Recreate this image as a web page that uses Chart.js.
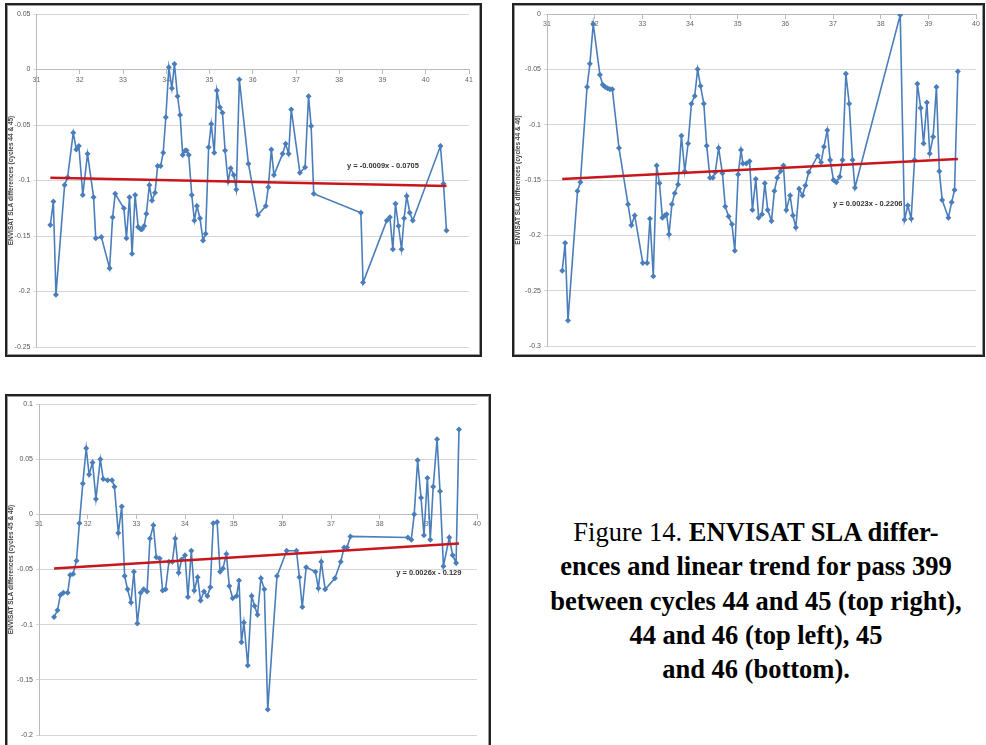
<!DOCTYPE html>
<html>
<head>
<meta charset="utf-8">
<script src="https://cdn.jsdelivr.net/npm/chart.js@4/dist/chart.umd.min.js"></script>
<style>
  body { margin: 0; background: #fff; width: 986px; height: 745px; position: relative; overflow: hidden; }
  .box { position: absolute; border: 2px solid #222; box-shadow: inset 0 0 0 1px #999; background: #fff; }
  canvas { position: absolute; }
  #caption {
    position: absolute; left: 526px; top: 515px; width: 460px;
    font-family: "Liberation Serif", "Times New Roman", serif; font-size: 26.5px;
    line-height: 34.3px; text-align: center; color: #000;
  }
</style>
</head>
<body>
<div class="box" style="left:5px;top:3px;width:473px;height:350px"></div>
<div class="box" style="left:512px;top:3px;width:469px;height:350px"></div>
<div class="box" style="left:5px;top:394px;width:482px;height:360px"></div>
<canvas id="c1" width="472" height="350" style="left:7px;top:5px"></canvas>
<canvas id="c2" width="468" height="350" style="left:514px;top:5px"></canvas>
<canvas id="c3" width="481" height="349" style="left:7px;top:396px"></canvas>
<div id="caption">Figure 14. <b>ENVISAT SLA differ-<br>ences and linear trend for pass 399<br>between cycles 44 and 45 (top right),<br>44 and 46 (top left), 45<br>and 46 (bottom).</b></div>

<script>
// cycles 44 & 45 (top left)
const x1 = [31.32, 31.39, 31.45, 31.65, 31.72, 31.85, 31.92, 31.98, 32.07, 32.18,
  32.32, 32.37, 32.50, 32.69, 32.76, 32.82, 33.02, 33.08, 33.15, 33.21,
  33.28, 33.35, 33.41, 33.44, 33.49, 33.54, 33.61, 33.67, 33.74, 33.80,
  33.87, 33.93, 33.99, 34.06, 34.13, 34.19, 34.26, 34.32, 34.38, 34.44,
  34.47, 34.52, 34.59, 34.65, 34.71, 34.78, 34.85, 34.91, 34.98, 35.04,
  35.11, 35.17, 35.24, 35.30, 35.36, 35.43, 35.49, 35.56, 35.62, 35.69,
  35.90, 36.12, 36.30, 36.36, 36.43, 36.49, 36.69, 36.76, 36.83, 36.89,
  37.09, 37.21, 37.29, 37.35, 37.41, 38.50, 38.55, 39.10, 39.17, 39.24,
  39.30, 39.37, 39.44, 39.50, 39.56, 39.63, 39.70, 40.34, 40.41, 40.48];
const y1 = [-0.140, -0.119, -0.203, -0.104, -0.097, -0.057, -0.072, -0.069, -0.113, -0.076,
  -0.115, -0.152, -0.151, -0.179, -0.133, -0.112, -0.125, -0.152, -0.115, -0.166,
  -0.113, -0.142, -0.144, -0.144, -0.141, -0.130, -0.104, -0.118, -0.111, -0.087,
  -0.087, -0.075, -0.043, 0.002, -0.017, 0.005, -0.024, -0.041, -0.077, -0.073,
  -0.073, -0.077, -0.113, -0.136, -0.123, -0.134, -0.154, -0.148, -0.070, -0.049,
  -0.075, -0.019, -0.034, -0.039, -0.073, -0.101, -0.089, -0.095, -0.108, -0.009,
  -0.085, -0.131, -0.123, -0.106, -0.072, -0.095, -0.076, -0.067, -0.076, -0.036,
  -0.093, -0.088, -0.024, -0.051, -0.112, -0.129, -0.192, -0.136, -0.133, -0.162,
  -0.121, -0.141, -0.162, -0.134, -0.114, -0.129, -0.136, -0.069, -0.103, -0.145];
const trend1 = [[31.32, -0.0975], [40.48, -0.105]];

// cycles 44 & 46 (top right)
const x2 = [31.32, 31.38, 31.44, 31.64, 31.70, 31.84, 31.90, 31.97, 32.11, 32.17,
  32.22, 32.27, 32.32, 32.37, 32.51, 32.70, 32.77, 32.84, 33.01, 33.10,
  33.16, 33.23, 33.30, 33.36, 33.42, 33.47, 33.51, 33.56, 33.62, 33.68,
  33.75, 33.82, 33.89, 33.96, 34.03, 34.10, 34.16, 34.22, 34.29, 34.35,
  34.42, 34.48, 34.53, 34.60, 34.68, 34.74, 34.81, 34.88, 34.94, 35.01,
  35.07, 35.11, 35.18, 35.25, 35.31, 35.38, 35.44, 35.51, 35.57, 35.63,
  35.71, 35.77, 35.83, 35.90, 35.96, 36.02, 36.10, 36.16, 36.22, 36.29,
  36.36, 36.42, 36.49, 36.68, 36.75, 36.81, 36.88, 36.94, 37.01, 37.07,
  37.14, 37.20, 37.27, 37.34, 37.41, 37.46, 38.41, 38.50, 38.57, 38.64,
  38.71, 38.77, 38.84, 38.90, 38.97, 39.03, 39.10, 39.17, 39.23, 39.29,
  39.42, 39.49, 39.55, 39.62];
const y2 = [-0.232, -0.207, -0.277, -0.160, -0.152, -0.066, -0.045, -0.009, -0.055, -0.064,
  -0.066, -0.067, -0.068, -0.068, -0.121, -0.172, -0.191, -0.182, -0.225, -0.225,
  -0.185, -0.237, -0.137, -0.153, -0.184, -0.182, -0.181, -0.199, -0.172, -0.162,
  -0.154, -0.110, -0.142, -0.117, -0.081, -0.074, -0.050, -0.065, -0.081, -0.119,
  -0.148, -0.148, -0.143, -0.121, -0.144, -0.174, -0.183, -0.190, -0.214, -0.145,
  -0.123, -0.135, -0.135, -0.133, -0.177, -0.149, -0.184, -0.181, -0.153, -0.177,
  -0.187, -0.160, -0.148, -0.142, -0.137, -0.177, -0.164, -0.182, -0.193, -0.158,
  -0.164, -0.155, -0.143, -0.128, -0.134, -0.120, -0.105, -0.132, -0.150, -0.152,
  -0.147, -0.132, -0.054, -0.081, -0.132, -0.157, -0.001, -0.186, -0.173, -0.185,
  -0.132, -0.063, -0.085, -0.117, -0.080, -0.126, -0.111, -0.066, -0.142, -0.168,
  -0.184, -0.170, -0.159, -0.052];
const trend2 = [[31.32, -0.149], [39.62, -0.131]];

// cycles 45 & 46 (bottom)
const x3 = [31.31, 31.38, 31.44, 31.50, 31.59, 31.64, 31.70, 31.77, 31.83, 31.90,
  31.97, 32.03, 32.10, 32.17, 32.26, 32.32, 32.41, 32.50, 32.55, 32.63,
  32.70, 32.76, 32.82, 32.89, 32.95, 33.02, 33.09, 33.15, 33.22, 33.28,
  33.35, 33.41, 33.48, 33.54, 33.60, 33.67, 33.74, 33.80, 33.87, 33.93,
  34.00, 34.06, 34.13, 34.19, 34.26, 34.32, 34.39, 34.46, 34.52, 34.58,
  34.66, 34.72, 34.78, 34.85, 34.91, 34.98, 35.06, 35.11, 35.16, 35.21,
  35.29, 35.37, 35.43, 35.49, 35.56, 35.63, 35.70, 35.89, 36.09, 36.29,
  36.35, 36.41, 36.49, 36.68, 36.74, 36.80, 36.88, 37.08, 37.20, 37.27,
  37.33, 37.40, 38.58, 38.65, 38.71, 38.78, 38.85, 38.91, 38.98, 39.04,
  39.10, 39.18, 39.24, 39.31, 39.43, 39.50, 39.57, 39.63];
const y3 = [-0.093, -0.087, -0.073, -0.071, -0.071, -0.055, -0.054, -0.042, -0.008, 0.028,
  0.060, 0.036, 0.047, 0.014, 0.050, 0.032, 0.031, 0.031, 0.025, -0.017,
  0.007, -0.056, -0.068, -0.080, -0.052, -0.099, -0.071, -0.068, -0.070, -0.022,
  -0.010, -0.039, -0.040, -0.069, -0.068, -0.043, -0.043, -0.022, -0.053, -0.041,
  -0.037, -0.075, -0.033, -0.069, -0.057, -0.078, -0.070, -0.074, -0.066, -0.008,
  -0.007, -0.052, -0.049, -0.036, -0.065, -0.076, -0.074, -0.060, -0.116, -0.098,
  -0.137, -0.074, -0.083, -0.091, -0.058, -0.068, -0.177, -0.056, -0.033, -0.033,
  -0.057, -0.084, -0.048, -0.052, -0.067, -0.043, -0.068, -0.058, -0.043, -0.030,
  -0.030, -0.020, -0.021, -0.023, 0.000, 0.049, 0.015, -0.019, 0.033, -0.023,
  0.025, 0.068, 0.021, -0.047, -0.021, -0.037, -0.044, 0.077];
const trend3 = [[31.31, -0.049], [39.63, -0.0265]];

// trend equation labels, anchored in data units
const eqText = ['y = -0.0009x - 0.0705', 'y = 0.0023x - 0.2206', 'y = 0.0026x - 0.129'];
const eqPos = [[39.01, -0.087], [37.73, -0.172], [39.01, -0.053]];

const axisTitles = ['ENVISAT SLA differences (cycles 44 & 45)',
  'ENVISAT SLA differences (cycles 44 & 46)',
  'ENVISAT SLA differences (cycles 45 & 46)'];

const blue = '#4a7ebb';
const red = '#c8161d';
const tickFont = { family: 'Liberation Sans', size: 7 };

const eqLabel = {
  id: 'eqLabel',
  afterDatasetsDraw(chart, args, opts) {
    const ctx = chart.ctx;
    ctx.save();
    ctx.font = 'bold 7.5px "Liberation Sans"';
    ctx.fillStyle = '#333';
    ctx.textAlign = 'center';
    ctx.textBaseline = 'middle';
    ctx.fillText(opts.text, chart.scales.x.getPixelForValue(opts.at[0]), chart.scales.y.getPixelForValue(opts.at[1]));
    ctx.restore();
  }
};

function makeChart(id, xs, ys, trend, cfg) {
  const pts = xs.map((x, i) => ({ x: x, y: ys[i] }));
  return new Chart(document.getElementById(id), {
    type: 'scatter',
    data: {
      datasets: [
        {
          data: trend.map(p => ({ x: p[0], y: p[1] })),
          showLine: true, borderColor: red, borderWidth: 2.5, pointRadius: 0
        },
        {
          data: pts,
          showLine: true, borderColor: blue, borderWidth: 1.6,
          pointStyle: 'rectRot', pointRadius: 3, backgroundColor: blue, pointBorderColor: blue, pointBorderWidth: 0
        }
      ]
    },
    options: {
      responsive: false,
      animation: false,
      devicePixelRatio: 1,
      layout: { padding: cfg.pad },
      plugins: {
        legend: { display: false },
        tooltip: { enabled: false },
        eqLabel: { text: cfg.eq, at: cfg.eqAt }
      },
      scales: {
        x: {
          type: 'linear',
          position: { y: 0 },
          min: 31, max: cfg.xMax,
          ticks: { stepSize: 1, font: tickFont, color: '#666', padding: 2, maxRotation: 0 },
          grid: { drawOnChartArea: false, tickLength: 4, color: '#bbb' },
          border: { color: '#bbb' }
        },
        y: {
          min: cfg.yMin, max: cfg.yMax,
          ticks: { stepSize: 0.05, font: tickFont, color: '#555', padding: 3, callback: v => String(+v.toFixed(3)) },
          grid: { color: '#d6d6d6', tickLength: 3 },
          border: { color: '#bbb' },
          title: { display: true, text: cfg.title, font: { family: 'Liberation Sans', size: 6.5, weight: 'bold' }, color: '#444', padding: 0 },
          afterFit(scale) { scale.width = cfg.yw; }
        }
      }
    },
    plugins: [eqLabel]
  });
}

makeChart('c1', x1, y1, trend1, {
  xMax: 41, yMin: -0.25, yMax: 0.05, yw: 29.5,
  pad: { left: 0, right: 10, top: 9, bottom: 8 },
  eq: eqText[0], eqAt: eqPos[0], title: axisTitles[0]
});
makeChart('c2', x2, y2, trend2, {
  xMax: 40, yMin: -0.3, yMax: 0, yw: 33,
  pad: { left: 0, right: 6, top: 9, bottom: 9 },
  eq: eqText[1], eqAt: eqPos[1], title: axisTitles[1]
});
makeChart('c3', x3, y3, trend3, {
  xMax: 40, yMin: -0.2, yMax: 0.1, yw: 32,
  pad: { left: 0, right: 11, top: 8, bottom: 10 },
  eq: eqText[2], eqAt: eqPos[2], title: axisTitles[2]
});
</script>
</body>
</html>
